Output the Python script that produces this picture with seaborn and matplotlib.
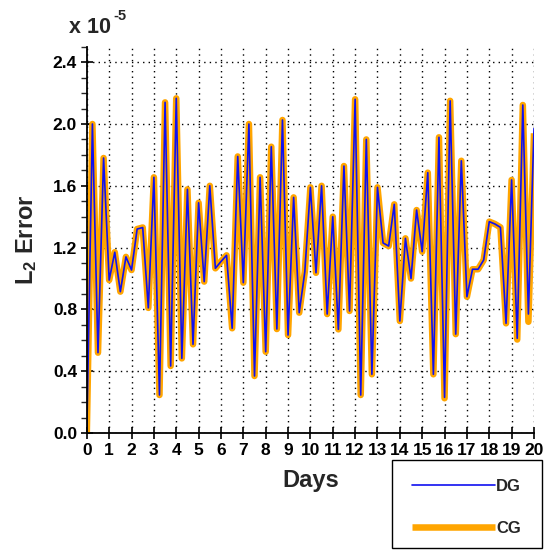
import numpy as np
import matplotlib
matplotlib.use('Agg')
import matplotlib.pyplot as plt
import seaborn as sns
from matplotlib.ticker import MultipleLocator
from matplotlib.patches import Rectangle

# L2 error every 6 hours (units of 1e-5)
days = np.arange(81) * 0.25
dg_err = [0.0, 2.00, 0.52, 1.78, 0.99, 1.17, 0.915, 1.14, 1.055, 1.32,
          1.33, 0.81, 1.655, 0.246, 2.14, 0.434, 2.166, 0.483, 1.577, 0.574,
          1.49, 0.98, 1.60, 1.066, 1.11, 1.15, 0.678, 1.79, 0.973, 2.00,
          0.369, 1.655, 0.526, 1.853, 0.673, 2.026, 0.634, 1.525, 0.779, 1.044,
          1.59, 1.037, 1.60, 0.77, 1.40, 0.671, 1.728, 0.79, 2.16, 0.246,
          1.90, 0.38, 1.59, 1.23, 1.21, 1.48, 0.725, 1.26, 1.00, 1.443,
          1.174, 1.685, 0.38, 1.914, 0.231, 2.15, 0.64, 1.762, 0.882, 1.06,
          1.06, 1.12, 1.368, 1.353, 1.331, 0.71, 1.638, 0.613, 2.123, 0.77,
          1.97]
cg_err = [0.0, 2.00, 0.52, 1.78, 0.99, 1.17, 0.915, 1.14, 1.055, 1.32,
          1.33, 0.81, 1.655, 0.246, 2.14, 0.434, 2.166, 0.483, 1.577, 0.574,
          1.49, 0.98, 1.60, 1.066, 1.11, 1.15, 0.678, 1.79, 0.973, 2.00,
          0.369, 1.655, 0.526, 1.853, 0.673, 2.026, 0.634, 1.525, 0.779, 1.044,
          1.59, 1.037, 1.60, 0.77, 1.40, 0.671, 1.728, 0.79, 2.16, 0.246,
          1.90, 0.38, 1.59, 1.23, 1.21, 1.48, 0.725, 1.26, 1.00, 1.443,
          1.174, 1.685, 0.38, 1.914, 0.225, 2.15, 0.64, 1.762, 0.882, 1.06,
          1.06, 1.12, 1.368, 1.353, 1.331, 0.71, 1.638, 0.605, 2.123, 0.72,
          1.94]
y_ticks = [0.0, 0.4, 0.8, 1.2, 1.6, 2.0, 2.4]
scale = 1e-5

sns.set_style('ticks')
plt.rcParams['font.family'] = ['Liberation Sans', 'DejaVu Sans']
plt.rcParams['font.weight'] = 'bold'
plt.rcParams['mathtext.fontset'] = 'custom'
plt.rcParams['mathtext.rm'] = 'Liberation Sans:bold'
plt.rcParams['mathtext.it'] = 'Liberation Sans:bold'

W, H = 546, 550
fig = plt.figure(figsize=(W / 100, H / 100), dpi=100)
ax = fig.add_axes([0.159, 0.2127, 0.819, 0.7023])

sns.lineplot(x=days, y=np.array(cg_err) * scale, color='#FFA500', lw=4.7,
             ax=ax, legend=False, solid_capstyle='butt')
sns.lineplot(x=days, y=np.array(dg_err) * scale, color='#1010F0', lw=1.2,
             ax=ax, legend=False)
cg_line, dg_line = ax.lines[0], ax.lines[1]

ax.set_xlim(0, 20)
ax.set_ylim(0, 2.5 * scale)
ax.xaxis.set_major_locator(MultipleLocator(1))
ax.set_yticks(np.array(y_ticks) * scale)
ax.set_yticklabels([f'{v:.1f}' for v in y_ticks])
ax.yaxis.set_minor_locator(MultipleLocator(0.1 * scale))

ax.tick_params(axis='both', which='major', direction='inout', length=8,
               width=1.2, labelsize=12.5, colors='black', pad=3)
ax.tick_params(axis='y', which='minor', direction='out', length=4, width=1)
ax.grid(True, which='major', color='black', linestyle=(0, (1, 3)), lw=1)
ax.set_axisbelow(True)
sns.despine(ax=ax)
for side in ['left', 'bottom']:
    ax.spines[side].set_linewidth(1.3)
    ax.spines[side].set_color('black')

ax.set_xlabel('Days', fontsize=17, fontweight='bold', labelpad=8)
ax.set_ylabel(r'L$_{2}$ Error', fontsize=17, fontweight='bold', labelpad=10)

fig.text(69 / W, 1 - 33 / H, 'x 10', fontsize=15.5, fontweight='bold',
         va='baseline')
fig.text(113 / W, 1 - 20 / H, '-5', fontsize=10.5, fontweight='bold',
         va='baseline')

# legend box sits below the axes, bottom right of the figure
fig.patches.append(Rectangle((392 / W, 1 - 548 / H), 150 / W, 88 / H,
                             transform=fig.transFigure, facecolor='white',
                             edgecolor='black', lw=1))
fig.legend(handles=[dg_line, cg_line], labels=['DG', 'CG'],
           loc='upper left', bbox_to_anchor=(412 / W, 1 - 479 / H),
           frameon=False, prop={'weight': 'bold', 'size': 12},
           handlelength=5, handletextpad=0.05, labelspacing=1.6,
           borderpad=0, borderaxespad=0)

fig.savefig('out.png', dpi=100)
